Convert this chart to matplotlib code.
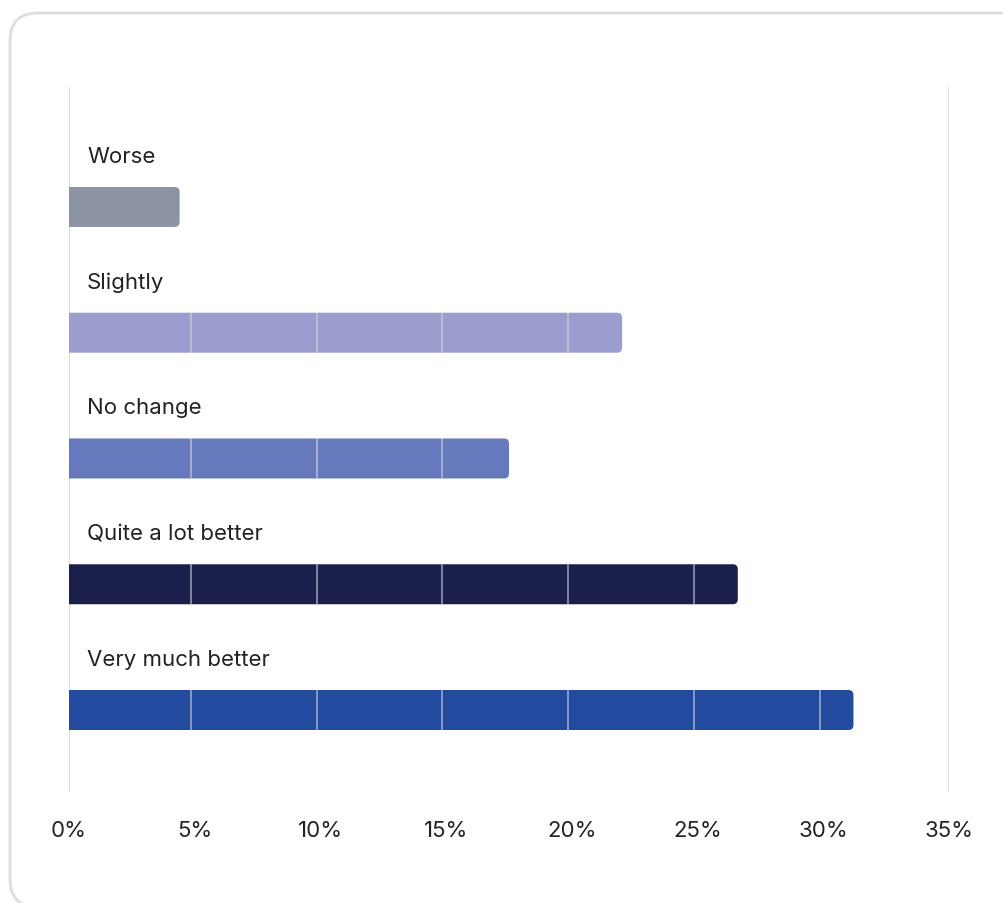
import matplotlib
matplotlib.use("Agg")
import matplotlib.pyplot as plt
from matplotlib.patches import FancyBboxPatch

plt.rcParams["font.family"] = ["Inter", "DejaVu Sans"]

# Data
categories = ["Worse", "Slightly", "No change", "Quite a lot better", "Very much better"]
values = [4.4, 22.0, 17.5, 26.6, 31.2]
colors = ["#8C93A3", "#9A9DCD", "#6579BC", "#1A1F4B", "#224A9F"]
xticks = [0, 5, 10, 15, 20, 25, 30, 35]
xticklabels = [f"{t}%" for t in xticks]

W, H = 1004, 904
fig = plt.figure(figsize=(W / 100, H / 100), dpi=100)

# card border (pixel coordinates -> figure fraction)
card_l, card_t, card_r, card_b = 10, 14, 1040, 908
card = FancyBboxPatch((card_l / W, 1 - card_b / H),
                      (card_r - card_l) / W, (card_b - card_t) / H,
                      boxstyle=f"round,pad=0,rounding_size={28 / W}",
                      mutation_aspect=W / H,
                      transform=fig.transFigure, facecolor="none",
                      edgecolor="#DDDDDD", linewidth=2, zorder=-1)
fig.patches.append(card)

ax_left, ax_right, ax_top, ax_bottom = 69, 949, 88, 793
ax = fig.add_axes([ax_left / W, 1 - ax_bottom / H,
                   (ax_right - ax_left) / W, (ax_bottom - ax_top) / H])
ax.set_facecolor("none")

xmax = 35
ymin, ymax = -0.954, 4.652
ax.set_xlim(0, xmax)
ax.set_ylim(ymax, ymin)

bar_h = 0.318
px_x = xmax / (ax_right - ax_left)          # data units per pixel (x)
px_y = (ymax - ymin) / (ax_bottom - ax_top)  # data units per pixel (y)
r = 5 * px_x

for i, (cat, val, col) in enumerate(zip(categories, values, colors)):
    patch = FancyBboxPatch((-2 * r, i - bar_h / 2), val + 2 * r, bar_h,
                           boxstyle=f"round,pad=0,rounding_size={r}",
                           mutation_aspect=px_y / px_x,
                           facecolor=col, edgecolor="none", zorder=2)
    ax.add_patch(patch)
    # grid segments only over the bar
    for t in xticks[1:-1]:
        if t < val:
            ax.plot([t - 0.15, t - 0.15], [i - bar_h / 2, i + bar_h / 2],
                    color="#D8D8D8", alpha=0.6, linewidth=1.3, zorder=3,
                    solid_capstyle="butt")
    ax.annotate(cat, xy=(0, i), xytext=(18, 51), textcoords="offset pixels",
                ha="left", va="center", fontsize=16, color="#222222")

# outer gridlines
for t in (0, xmax):
    ax.axvline(t, color="#DDDDDD", linewidth=1.5, zorder=1)

ax.set_xticks(xticks)
ax.set_xticklabels(xticklabels, fontsize=16, color="#222222")
ax.tick_params(axis="x", length=0, pad=20)
ax.set_yticks([])
for s in ax.spines.values():
    s.set_visible(False)

fig.savefig("out.png", dpi=100)
